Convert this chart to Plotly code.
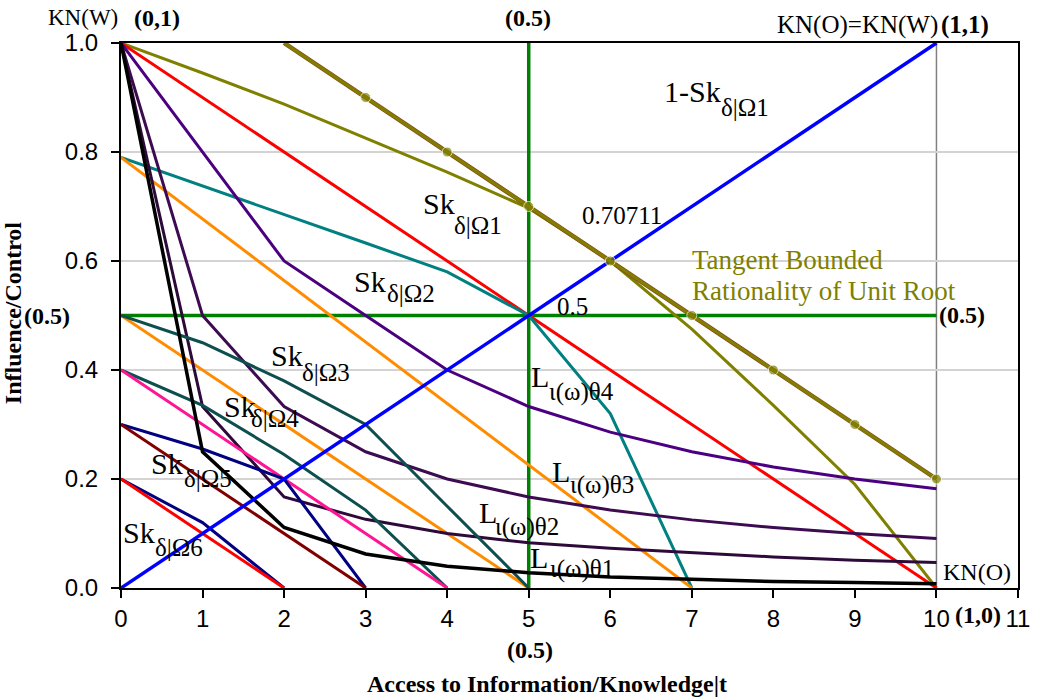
import plotly.graph_objects as go

# ---------------- data ----------------
x_all = [0, 1, 2, 3, 4, 5, 6, 7, 8, 9, 10]

diag_x = [0, 10]
diag_y = [0.0, 1.0]
red_x = [0, 10]
red_y = [1.0, 0.0]
half_h_x = [0, 10]
half_h_y = [0.5, 0.5]
half_v_x = [5, 5]
half_v_y = [0.0, 1.0]

tangent_x = [2, 3, 4, 5, 6, 7, 8, 9, 10]
tangent_y = [1.0, 0.9, 0.8, 0.7, 0.6, 0.5, 0.4, 0.3, 0.2]

sk1_y = [1.0, 0.945, 0.888, 0.826, 0.763, 0.697, 0.6, 0.475, 0.335, 0.19, 0.0]

sk2_x = [0, 1, 2, 3, 4, 5, 6, 7]
sk2_y = [0.79, 0.738, 0.686, 0.633, 0.58, 0.5, 0.32, 0.0]

orange1_x = [0, 7]
orange1_y = [0.79, 0.0]
orange2_x = [0, 5]
orange2_y = [0.5, 0.0]

l4_y = [1.0, 0.8, 0.6, 0.5, 0.4, 0.333, 0.286, 0.25, 0.222, 0.2, 0.182]
l3_y = [1.0, 0.5, 0.333, 0.25, 0.2, 0.167, 0.143, 0.125, 0.111, 0.1, 0.091]
l2_y = [1.0, 0.333, 0.167, 0.126, 0.1, 0.083, 0.073, 0.065, 0.057, 0.051, 0.047]
l1_y = [1.0, 0.25, 0.111, 0.0625, 0.04, 0.028, 0.02, 0.016, 0.012, 0.01, 0.008]

sk3_x = [0, 1, 2, 3, 4, 5]
sk3_y = [0.5, 0.45, 0.38, 0.3, 0.15, 0.0]
sk4_x = [0, 1, 2, 3, 4]
sk4_y = [0.4, 0.335, 0.245, 0.143, 0.0]
pink_x = [0, 4]
pink_y = [0.4, 0.0]
sk5_x = [0, 1, 2, 3]
sk5_y = [0.3, 0.255, 0.2, 0.0]
maroon_x = [0, 3]
maroon_y = [0.3, 0.0]
sk6_x = [0, 1, 2]
sk6_y = [0.2, 0.12, 0.0]
red6_x = [0, 2]
red6_y = [0.2, 0.0]

x_ticks = [0, 1, 2, 3, 4, 5, 6, 7, 8, 9, 10, 11]
y_ticks = [0.0, 0.2, 0.4, 0.6, 0.8, 1.0]
y_ticktext = ["0.0", "0.2", "0.4", "0.6", "0.8", "1.0"]

# ---------------- figure ----------------
fig = go.Figure()


def line(x, y, color, width=3, **kw):
    fig.add_trace(go.Scatter(x=x, y=y, mode="lines",
                             line=dict(color=color, width=width),
                             hoverinfo="skip", showlegend=False, **kw))


line(half_h_x, half_h_y, "#008000", 3.5)
line(half_v_x, half_v_y, "#008000", 3.5)
line(x_all, sk1_y, "#808000", 3)
line(red_x, red_y, "#FF0000", 3)
line(sk2_x, sk2_y, "#008080", 3)
line(orange1_x, orange1_y, "#FF8C00", 3)
line(orange2_x, orange2_y, "#FF8C00", 3)
line(x_all, l4_y, "#4B0082", 3)
line(x_all, l3_y, "#3D0B4F", 3)
line(x_all, l2_y, "#2E0A3A", 3)
line(sk3_x, sk3_y, "#0D4F4F", 3)
line(sk4_x, sk4_y, "#0D4F4F", 3)
line(pink_x, pink_y, "#FF1493", 3)
line(sk5_x, sk5_y, "#000080", 3)
line(maroon_x, maroon_y, "#800000", 3)
line(sk6_x, sk6_y, "#000080", 3)
line(red6_x, red6_y, "#FF0000", 3)
line(x_all, l1_y, "#000000", 3.5)
line(diag_x, diag_y, "#0000FF", 3.5)
# tangent line with markers (brown rim under olive)
line(tangent_x, tangent_y, "#8B4A1A", 4.5)
fig.add_trace(go.Scatter(x=tangent_x, y=tangent_y, mode="lines+markers",
                         line=dict(color="#808000", width=3),
                         marker=dict(color="#808000", size=[0, 10, 10, 10, 10, 10, 10, 10, 10]),
                         hoverinfo="skip", showlegend=False))

# ---------------- annotations (pixel positions -> paper coords) ----------------
L_PX, R_PX, T_PX, B_PX = 121.0, 1028.0, 43.0, 588.0


def px(p):
    return (p - L_PX) / (R_PX - L_PX)


def py(p):
    return (B_PX - p) / (B_PX - T_PX)


SERIF = "Liberation Serif"
SANS = "Liberation Sans"


def ann(text, x, y, size=22, color="black", bold=False, angle=0, xanchor="center", family=SERIF):
    if bold:
        text = "<b>" + text + "</b>"
    fig.add_annotation(x=px(x), y=py(y), xref="paper", yref="paper", text=text,
                       showarrow=False, xanchor=xanchor, yanchor="middle",
                       textangle=angle, borderpad=0,
                       font=dict(family=family, size=size, color=color))


# outside labels
ann("KN(W)", 83, 17, 23)
ann("(0,1)", 157, 18, 24, bold=True)
ann("(0.5)", 533, 18, 24, bold=True)
ann("KN(O)=KN(W)", 866, 25, 25)
ann("(1,1)", 974, 25, 25, bold=True)
ann("(0.5)", 46, 316, 24, bold=True)
ann("(0.5)", 971, 315, 24, bold=True)
ann("KN(O)", 987, 572, 24)
ann("(1,0)", 988, 615, 24, bold=True)
ann("(0.5)", 535, 650, 24, bold=True)
ann("Access to Information/Knowledge|t", 552, 684, 24, bold=True)
ann("Influence/Control", 12, 313, 24, bold=True, angle=-90)

# inside labels
ann("0.70711", 628, 215, 25)
ann("0.5", 578, 306, 25)
ann("Tangent Bounded", 697, 260, 27, color="#808000", xanchor="left")
ann("Rationality of Unit Root", 697, 291, 27, color="#808000", xanchor="left")

MAIN, SUB = 30, 25
labels = [
    ("1-Sk", 699, 91, "δ|Ω1", 752, 108),
    ("Sk", 443, 203, "δ|Ω1", 482, 225),
    ("Sk", 373, 281, "δ|Ω2", 414, 293),
    ("Sk", 289, 355, "δ|Ω3", 328, 373),
    ("Sk", 241, 406, "δ|Ω4", 277, 418),
    ("Sk", 168, 463, "δ|Ω5", 209, 478),
    ("Sk", 139, 532, "δ|Ω6", 180, 547),
    ("L", 545, 376, "ι(ω)θ4", 587, 392),
    ("L", 566, 471, "ι(ω)θ3", 607, 485),
    ("L", 492, 512, "ι(ω)θ2", 532, 527),
    ("L", 544, 557, "ι(ω)θ1", 587, 569),
]
for m, mx, my, s, sx, sy in labels:
    ann(m, mx, my, MAIN)
    ann(s, sx, sy, SUB)

# gray vertical reference at x=10
fig.add_shape(type="line", x0=10, x1=10, y0=0, y1=1, xref="x", yref="y",
              line=dict(color="#808080", width=1.5), layer="below")

fig.update_layout(
    width=1042, height=700,
    margin=dict(l=121, r=14, t=43, b=112),
    paper_bgcolor="white", plot_bgcolor="white",
    showlegend=False,
    xaxis=dict(range=[0, 11], tickvals=x_ticks, ticks="outside", ticklen=8,
               tickwidth=1.5, tickcolor="black", showgrid=False, zeroline=False,
               showline=True, linecolor="black", linewidth=2, mirror=True,
               tickfont=dict(family=SANS, size=24, color="black")),
    yaxis=dict(range=[0, 1], tickvals=y_ticks, ticktext=y_ticktext, ticks="outside",
               ticklen=8, tickwidth=1.5, tickcolor="black", showgrid=True,
               gridcolor="#D3D3D3", gridwidth=1.5, zeroline=False,
               showline=True, linecolor="black", linewidth=2, mirror=True,
               ticklabelstandoff=8,
               tickfont=dict(family=SANS, size=24, color="black")),
)

fig.write_html("out.html")
